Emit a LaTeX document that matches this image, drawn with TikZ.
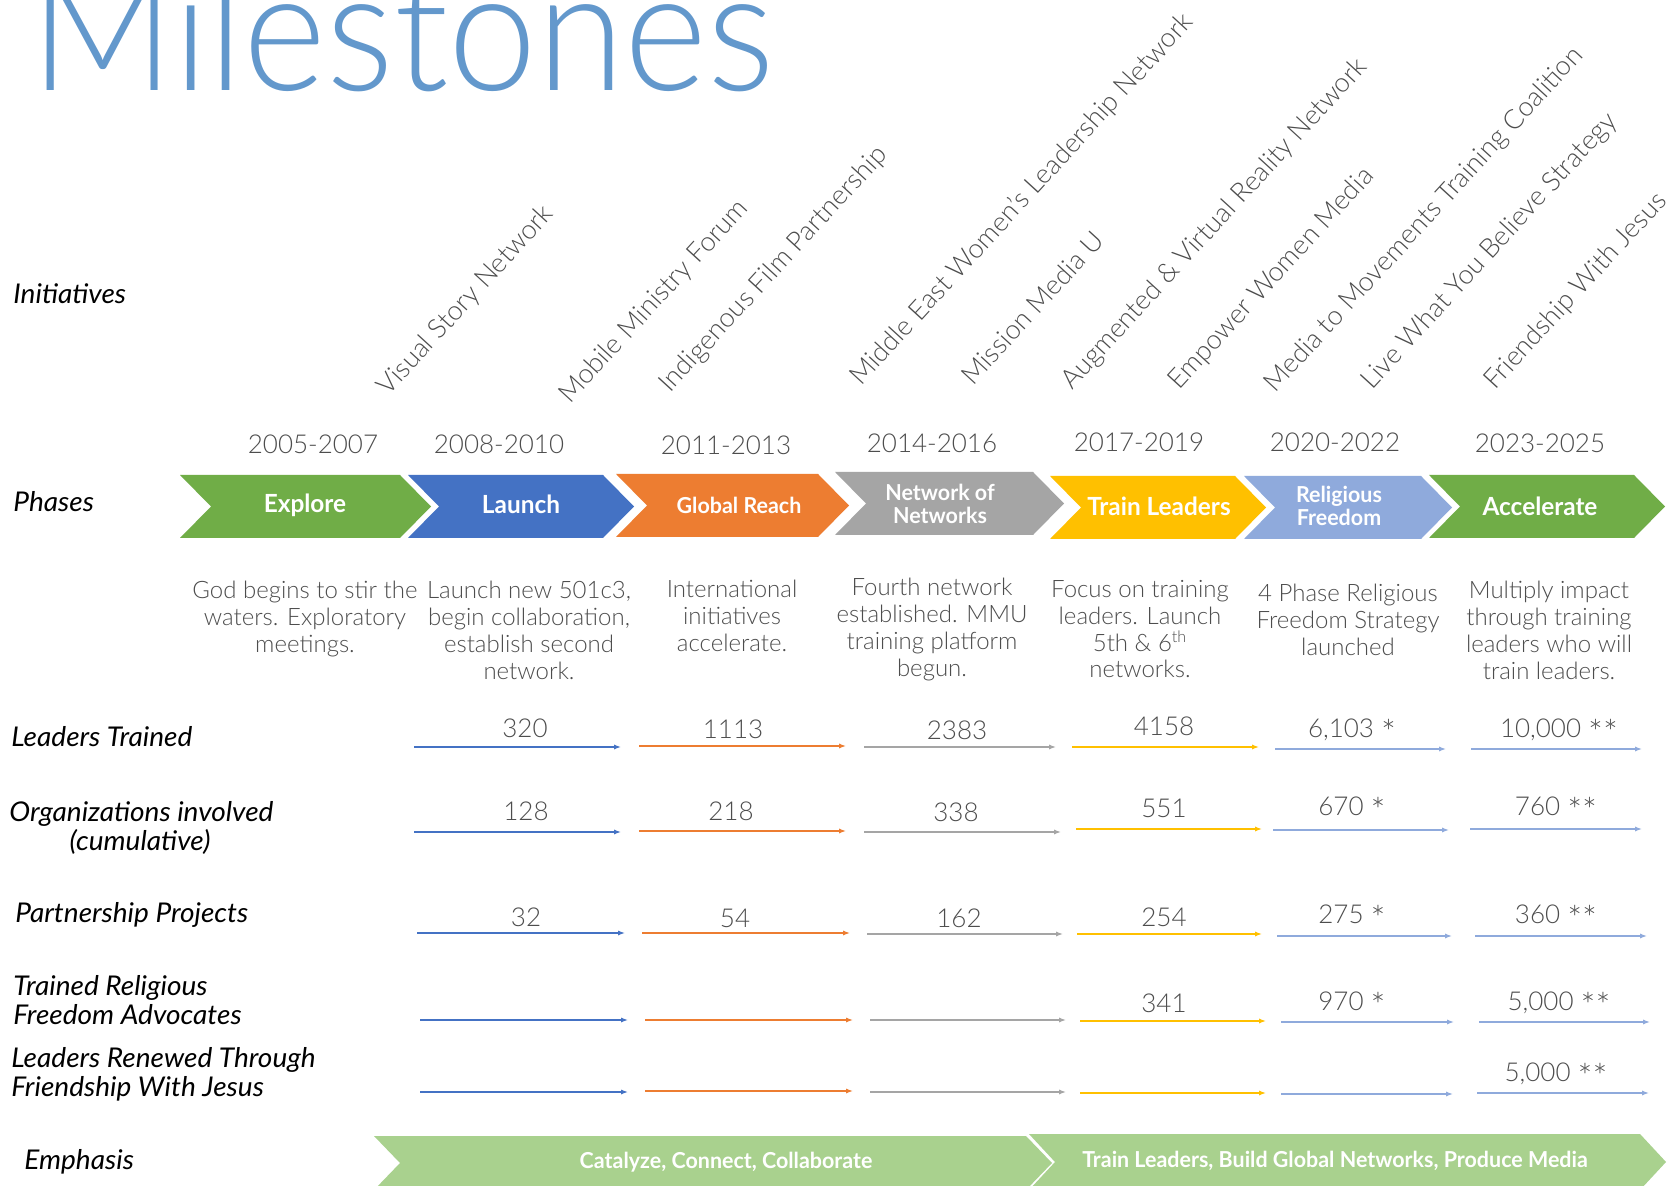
\documentclass[tikz,border=0pt]{standalone}
\usepackage{fontspec}
\setmainfont{Lato}[UprightFont=* Light, ItalicFont=* Italic, BoldFont=* Bold]
\newfontfamily\condb{Lato Bold}[FakeStretch=0.975]
\newfontfamily\titlef{Lato Light}[FakeStretch=0.934]
\newfontfamily\itf{Lato Italic}[FakeStretch=1.03]
\usetikzlibrary{arrows.meta}
\definecolor{cgreen}{HTML}{70AD47}
\definecolor{cblue}{HTML}{4472C4}
\definecolor{corange}{HTML}{ED7D31}
\definecolor{cgray}{HTML}{A5A5A5}
\definecolor{cyellow}{HTML}{FFC000}
\definecolor{clblue}{HTML}{8FAADC}
\definecolor{clgreen}{HTML}{A9D18E}
\definecolor{ctitle}{HTML}{6398CC}
\definecolor{ctext}{HTML}{4D4D4D}
\newcommand\chev[6]{%
  \fill[#6] (#1,#3) -- ({#2-#5},#3) -- (#2,{(#3+#4)/2}) -- ({#2-#5},#4) -- (#1,#4) -- ({#1+#5},{(#3+#4)/2}) -- cycle;}
\newcommand\marrow[5]{%
  \coordinate (#1s) at (#2,#4); \coordinate (#1e) at (#3,#4);
  \draw[metric,#5] (#1s) -- (#1e);}
\newcommand\bigast{\raisebox{-0.32em}{\scalebox{1.35}{*}}}
\begin{document}
\begin{tikzpicture}[x=0.5pt,y=-0.5pt,
  rowlabel/.style={anchor=base west,inner sep=0,font=\itf\fontsize{13.6}{15}\selectfont,text=black},
  yearlbl/.style={anchor=base,inner sep=0,font=\fontsize{13}{15}\selectfont,text=ctext},
  num/.style={anchor=base,inner sep=0,font=\fontsize{13}{15}\selectfont,text=ctext},
  init/.style={rotate=47.5,anchor=base west,inner sep=0,font=\fontsize{13.5}{15}\selectfont,text=ctext},
  desc/.style={anchor=north,align=center,inner sep=0,font=\fontsize{12}{13.4}\selectfont,text=ctext},
  phase/.style={inner sep=0,align=center,text=white,font=\condb\fontsize{12.5}{14}\selectfont},
  phasesm/.style={inner sep=0,align=center,text=white,font=\condb\fontsize{11}{11.8}\selectfont},
  emph/.style={inner sep=0,text=white,font=\condb\fontsize{11}{12}\selectfont},
  metric/.style={line width=0.7pt,-{Latex[length=3.5pt,width=2.6pt]}}]
\useasboundingbox (0,0) rectangle (1680,1186);
\clip (0,0) rectangle (1680,1186);
\fill[white] (0,0) rectangle (1680,1186);

% title
\node[anchor=base west,inner sep=0,text=ctitle,font=\titlef\fontsize{85}{90}\selectfont] (title) at (30,91) {Milestones};

% row labels
\node[rowlabel] (lInit) at (13,304) {Initiatives};
\node[rowlabel] (lPhase) at (13,512) {Phases};
\node[rowlabel] (lLead) at (11,746) {Leaders Trained};
\node[rowlabel] (lOrg) at (9,821) {Organizations involved};
\node[rowlabel,anchor=base] (lCum) at (140,850) {(cumulative)};
\node[rowlabel] (lPart) at (15,922) {Partnership Projects};
\node[rowlabel] (lTr1) at (13,995) {Trained Religious};
\node[rowlabel] (lTr2) at (13,1024) {Freedom Advocates};
\node[rowlabel] (lRen1) at (11,1067) {Leaders Renewed Through};
\node[rowlabel] (lRen2) at (11,1096) {Friendship With Jesus};
\node[rowlabel] (lEmph) at (24,1169) {Emphasis};

% initiatives
\node[init] (i1) at (388,397) {Visual Story Network};
\node[init] (i2) at (570,405) {Mobile Ministry Forum};
\node[init] (i3) at (670,394) {Indigenous Film Partnership};
\node[init] (i4) at (861,387) {Middle East Women's Leadership Network};
\node[init] (i5) at (973,387) {Mission Media U};
\node[init] (i6) at (1072,391) {Augmented \& Virtual Reality Network};
\node[init] (i7) at (1179,391) {Empower Women Media};
\node[init] (i8) at (1275,394) {Media to Movements Training Coalition};
\node[init] (i9) at (1372,391) {Live What You Believe Strategy};
\node[init] (i10) at (1495,391) {Friendship With Jesus};

% years
\node[yearlbl] (y1) at (313,454) {2005-2007};
\node[yearlbl] (y2) at (499,454) {2008-2010};
\node[yearlbl] (y3) at (726,455) {2011-2013};
\node[yearlbl] (y4) at (932,453) {2014-2016};
\node[yearlbl] (y5) at (1139,452) {2017-2019};
\node[yearlbl] (y6) at (1335,452) {2020-2022};
\node[yearlbl] (y7) at (1540,453) {2023-2025};

% phase chevrons
\chev{180}{431}{475}{538}{31}{cgreen}
\chev{408}{634}{475}{538}{31}{cblue}
\chev{616}{849}{474}{537}{31}{corange}
\chev{835}{1064}{472}{535}{31}{cgray}
\chev{1050}{1266}{476}{539}{31}{cyellow}
\chev{1244}{1452}{476}{539}{31}{clblue}
\chev{1429}{1665}{475}{538}{31}{cgreen}
\node[phase] (p1) at (305,505) {Explore};
\node[phase] (p2) at (521,504) {Launch};
\node[phasesm] (p3) at (739,505) {Global Reach};
\node[phasesm] (p4) at (940,504) {Network of\\Networks};
\node[phase] (p5) at (1159,506) {Train Leaders};
\node[phasesm] (p6) at (1339,506) {Religious\\Freedom};
\node[phase] (p7) at (1540,506) {Accelerate};

% descriptions
\node[desc] (d1) at (305,581) {God begins to stir the\\waters. Exploratory\\meetings.};
\node[desc] (d2) at (529,581) {Launch new 501c3,\\begin collaboration,\\establish second\\network.};
\node[desc] (d3) at (732,580) {International\\initiatives\\accelerate.};
\node[desc] (d4) at (932,578) {Fourth network\\established. MMU\\training platform\\begun.};
\node[desc] (d5) at (1140,580) {Focus on training\\leaders. Launch\\5th \& 6\textsuperscript{th}\\networks.};
\node[desc] (d6) at (1348,584) {4 Phase Religious\\Freedom Strategy\\launched};
\node[desc] (d7) at (1549,581) {Multiply impact\\through training\\leaders who will\\train leaders.};

% row 1 Leaders trained
\marrow{a1}{414}{621}{747}{cblue}
\marrow{a2}{639}{846}{746}{corange}
\marrow{a3}{864}{1056}{747}{cgray}
\marrow{a4}{1072}{1259}{747}{cyellow}
\marrow{a5}{1275}{1446}{749}{clblue}
\marrow{a6}{1471}{1642}{749}{clblue}
\node[num] (n11) at (525,737) {320};
\node[num] (n12) at (733,738) {1113};
\node[num] (n13) at (957,739) {2383};
\node[num] (n14) at (1164,735) {4158};
\node[num] (n15) at (1352,737) {6,103 \bigast};
\node[num] (n16) at (1559,737) {10,000 \bigast\bigast};

% row 2 organizations
\marrow{b1}{414}{621}{832}{cblue}
\marrow{b2}{639}{846}{831}{corange}
\marrow{b3}{864}{1061}{832}{cgray}
\marrow{b4}{1076}{1262}{829}{cyellow}
\marrow{b5}{1273}{1449}{830}{clblue}
\marrow{b6}{1470}{1642}{829}{clblue}
\node[num] (n21) at (526,820) {128};
\node[num] (n22) at (731,820) {218};
\node[num] (n23) at (956,821) {338};
\node[num] (n24) at (1164,817) {551};
\node[num] (n25) at (1352,815) {670 \bigast};
\node[num] (n26) at (1556,815) {760 \bigast\bigast};

% row 3 partnership projects
\marrow{c1}{417}{625}{933}{cblue}
\marrow{c2}{642}{850}{933}{corange}
\marrow{c3}{867}{1063}{934}{cgray}
\marrow{c4}{1077}{1262}{934}{cyellow}
\marrow{c5}{1277}{1452}{936}{clblue}
\marrow{c6}{1475}{1647}{936}{clblue}
\node[num] (n31) at (526,926) {32};
\node[num] (n32) at (735,927) {54};
\node[num] (n33) at (959,927) {162};
\node[num] (n34) at (1164,926) {254};
\node[num] (n35) at (1352,923) {275 \bigast};
\node[num] (n36) at (1556,923) {360 \bigast\bigast};

% row 4 religious freedom advocates
\marrow{e1}{420}{628}{1020}{cblue}
\marrow{e2}{645}{853}{1020}{corange}
\marrow{e3}{870}{1066}{1020}{cgray}
\marrow{e4}{1080}{1266}{1021}{cyellow}
\marrow{e5}{1281}{1454}{1022}{clblue}
\marrow{e6}{1479}{1650}{1022}{clblue}
\node[num] (n44) at (1164,1012) {341};
\node[num] (n45) at (1352,1010) {970 \bigast};
\node[num] (n46) at (1559,1010) {5,000 \bigast\bigast};

% row 5 leaders renewed
\marrow{f1}{420}{628}{1092}{cblue}
\marrow{f2}{645}{853}{1091}{corange}
\marrow{f3}{870}{1066}{1092}{cgray}
\marrow{f4}{1080}{1266}{1093}{cyellow}
\marrow{f5}{1281}{1453}{1094}{clblue}
\marrow{f6}{1477}{1649}{1093}{clblue}
\node[num] (n56) at (1556,1081) {5,000 \bigast\bigast};

% emphasis bars
\chev{374}{1052}{1136}{1190}{26}{clgreen}
\chev{1029}{1666}{1134}{1190}{26}{clgreen}
\node[emph] (em1) at (726,1162) {Catalyze, Connect, Collaborate};
\node[emph] (em2) at (1335,1161) {Train Leaders, Build Global Networks, Produce Media};
\end{tikzpicture}
\end{document}
